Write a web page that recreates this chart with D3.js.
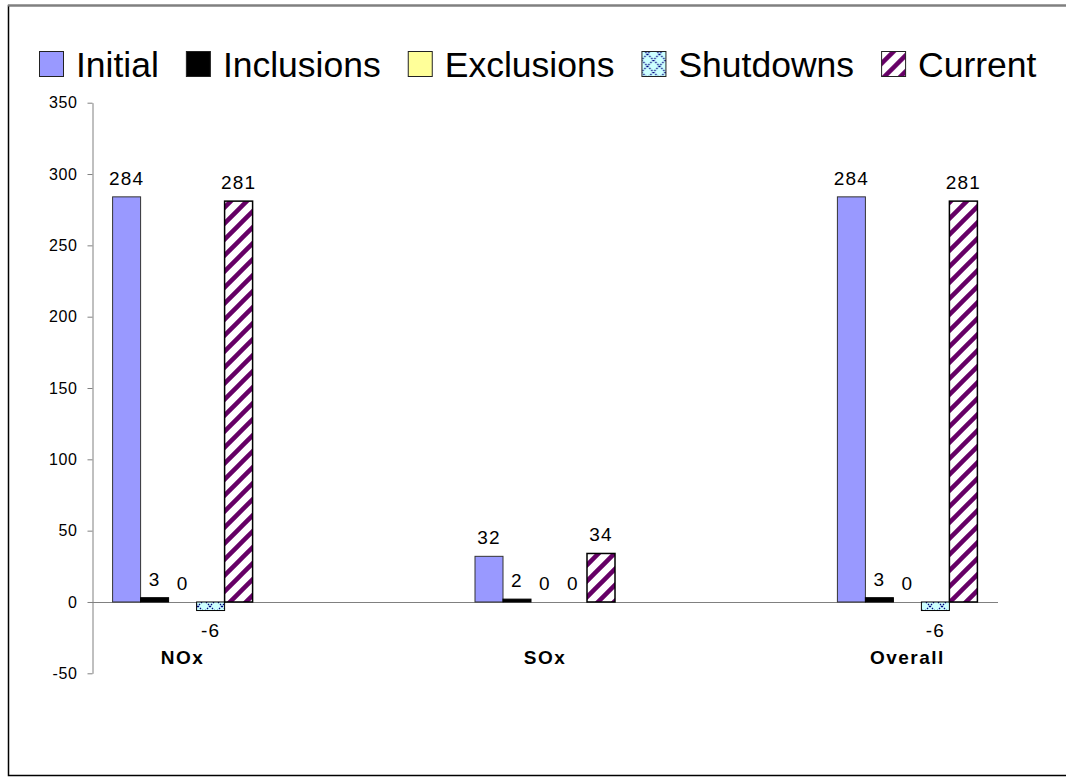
<!DOCTYPE html>
<html>
<head>
<meta charset="utf-8">
<script src="https://cdn.jsdelivr.net/npm/d3@7"></script>
<style>
  html, body { margin: 0; padding: 0; background: #fff; }
  svg { display: block; font-family: Arial, "Liberation Sans", sans-serif; }
</style>
</head>
<body>
<svg id="chart" width="1066" height="778"></svg>
<script>
// Pollutant groups and the five emission series
const categories = ["NOx", "SOx", "Overall"];
const seriesNames = ["Initial", "Inclusions", "Exclusions", "Shutdowns", "Current"];
const initialValues    = [284, 32, 284];
const inclusionValues  = [3, 2, 3];
const exclusionValues  = [0, 0, 0];
const shutdownValues   = [-6, 0, -6];
const currentValues    = [281, 34, 281];
const yTicks = [-50, 0, 50, 100, 150, 200, 250, 300, 350];

const seriesValues = [initialValues, inclusionValues, exclusionValues, shutdownValues, currentValues];

const svg = d3.select("#chart");
const defs = svg.append("defs");

// Fill patterns: dotted lattice for shutdowns, wide diagonal stripes for current
const pShut = defs.append("pattern")
  .attr("id", "pat-shut").attr("patternUnits", "userSpaceOnUse")
  .attr("width", 12).attr("height", 12);
pShut.append("rect").attr("width", 12).attr("height", 12).attr("fill", "#ccffff");
pShut.append("path").attr("d", "M0,0 L12,12 M12,0 L0,12")
  .attr("stroke", "#000080").attr("stroke-width", 1.2).attr("stroke-dasharray", "1.5,1.3").attr("fill", "none");

const pCur = defs.append("pattern")
  .attr("id", "pat-cur").attr("patternUnits", "userSpaceOnUse")
  .attr("width", 16).attr("height", 16);
pCur.append("rect").attr("width", 16).attr("height", 16).attr("fill", "#ffffff");
pCur.append("path").attr("d", "M-4,4 L4,-4 M0,16 L16,0 M12,20 L20,12")
  .attr("stroke", "#660066").attr("stroke-width", 4.5).attr("fill", "none");

const fills = ["#9999ff", "#000000", "#ffff99", "url(#pat-shut)", "url(#pat-cur)"];
const strokes = ["#333333", "#000000", "#333333", "#000000", "#000000"];

// Outer frame
svg.append("rect").attr("x", 8.5).attr("y", 5.5).attr("width", 1070).attr("height", 770)
  .attr("fill", "#fff").attr("stroke", "#000").attr("stroke-width", 1.5);
svg.append("line").attr("x1", 8).attr("x2", 1066).attr("y1", 5.5).attr("y2", 5.5)
  .attr("stroke", "#808080").attr("stroke-width", 2);

// Scales
const plotLeft = 92, plotRight = 998;
const y = d3.scaleLinear().domain([-50, 350]).range([673.3, 102.7]);
const x0 = d3.scalePoint().domain(categories).range([plotLeft, plotRight]).padding(0.25);
const x1 = d3.scaleBand().domain(seriesNames).range([-70, 70]);

// Y axis
const yAxis = d3.axisLeft(y).tickValues(yTicks).tickFormat(d => String(d))
  .tickSize(5).tickSizeOuter(0).tickPadding(10);
const gy = svg.append("g").attr("transform", `translate(${plotLeft + 0.5},0)`).call(yAxis);
gy.select(".domain").attr("stroke", "#808080");
gy.selectAll(".tick line").attr("stroke", "#808080");
gy.selectAll(".tick text").attr("font-size", 16).attr("letter-spacing", 0.6).attr("fill", "#000")
  .attr("font-family", "Arial, 'Liberation Sans', sans-serif");

// Zero baseline
svg.append("line")
  .attr("x1", plotLeft).attr("x2", plotRight)
  .attr("y1", Math.round(y(0)) + 0.5).attr("y2", Math.round(y(0)) + 0.5)
  .attr("stroke", "#808080").attr("stroke-width", 1);

// Bars
const bars = [];
seriesNames.forEach((s, si) => {
  categories.forEach((c, ci) => {
    bars.push({ series: s, si, category: c, value: seriesValues[si][ci] });
  });
});

svg.append("g").selectAll("rect")
  .data(bars.filter(d => d.value !== 0))
  .join("rect")
  .attr("x", d => x0(d.category) + x1(d.series))
  .attr("width", x1.bandwidth())
  .attr("y", d => y(Math.max(0, d.value)))
  .attr("height", d => Math.abs(y(d.value) - y(0)))
  .attr("fill", d => fills[d.si])
  .attr("stroke", d => strokes[d.si])
  .attr("stroke-width", d => d.si === 4 ? 1.5 : 1);

// Value labels
svg.append("g").selectAll("text")
  .data(bars)
  .join("text")
  .attr("x", d => x0(d.category) + x1(d.series) + x1.bandwidth() / 2)
  .attr("y", d => d.value >= 0 ? y(d.value) - 12 : y(d.value) + 26)
  .attr("text-anchor", "middle")
  .attr("font-size", 19)
  .attr("letter-spacing", 1.2)
  .attr("fill", "#000")
  .text(d => d.value);

// Category labels
svg.append("g").selectAll("text")
  .data(categories)
  .join("text")
  .attr("x", d => x0(d))
  .attr("y", 664)
  .attr("text-anchor", "middle")
  .attr("font-size", 19)
  .attr("font-weight", "bold")
  .attr("letter-spacing", 1.5)
  .text(d => d);

// Legend
const legend = svg.append("g").attr("transform", "translate(39,0)");
let lx = 0;
seriesNames.forEach((s, si) => {
  const item = legend.append("g").attr("transform", `translate(${lx},0)`);
  item.append("rect").attr("x", 0.5).attr("y", 51.5).attr("width", 24).attr("height", 25)
    .attr("fill", fills[si]).attr("stroke", "#222").attr("stroke-width", 1);
  const t = item.append("text").attr("x", 37).attr("y", 77)
    .attr("font-size", 35.5).attr("fill", "#000").text(s);
  lx += 37 + t.node().getComputedTextLength() + 27;
});
</script>
</body>
</html>
